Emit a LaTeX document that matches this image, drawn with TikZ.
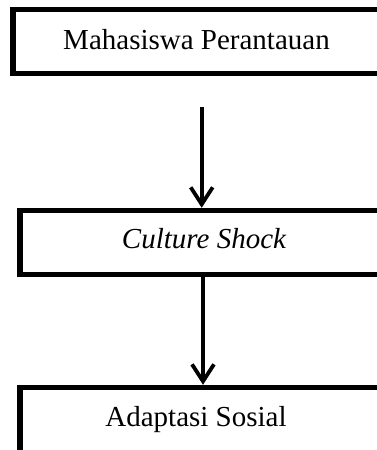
\documentclass[tikz,border=0pt]{standalone}
\usepackage{fontspec}
\setmainfont{Liberation Serif}
\usetikzlibrary{arrows.meta}

\tikzset{
  flowbox/.style={draw, rectangle, line width=5.5pt, outer sep=0pt, inner sep=0pt,
    minimum width=420pt, anchor=north west},
  boxtext/.style={anchor=base, inner sep=0pt, font=\fontsize{29}{34}\selectfont},
  flowarrow/.style={line width=3.8pt, -{Straight Barb[length=17pt,width=22pt]}}
}

\begin{document}
\begin{tikzpicture}[x=1pt,y=-1pt]
  \useasboundingbox (0,0) rectangle (377,450);
  \clip (0,0) rectangle (377,450);

  \node[flowbox, minimum height=64pt] (rantau) at (13,9.5) {};
  \node[flowbox, minimum height=64pt] (shock) at (20,210.5) {};
  \node[flowbox, minimum height=100pt] (adapt) at (20,387.5) {};

  \node[boxtext] (trantau) at (196.5,49.3) {Mahasiswa Perantauan};
  \node[boxtext] (tshock) at (204,248.3) {\itshape Culture Shock};
  \node[boxtext] (tadapt) at (196,426.5) {Adaptasi Sosial};

  \coordinate (a1) at (201.7,107);
  \coordinate (a2) at (203,0);

  \draw[flowarrow, shorten >=2.7pt] (a1) -- (shock.north -| a1);
  \draw[flowarrow, shorten >=2.7pt] (shock.south -| a2) -- (adapt.north -| a2);
\end{tikzpicture}
\end{document}
